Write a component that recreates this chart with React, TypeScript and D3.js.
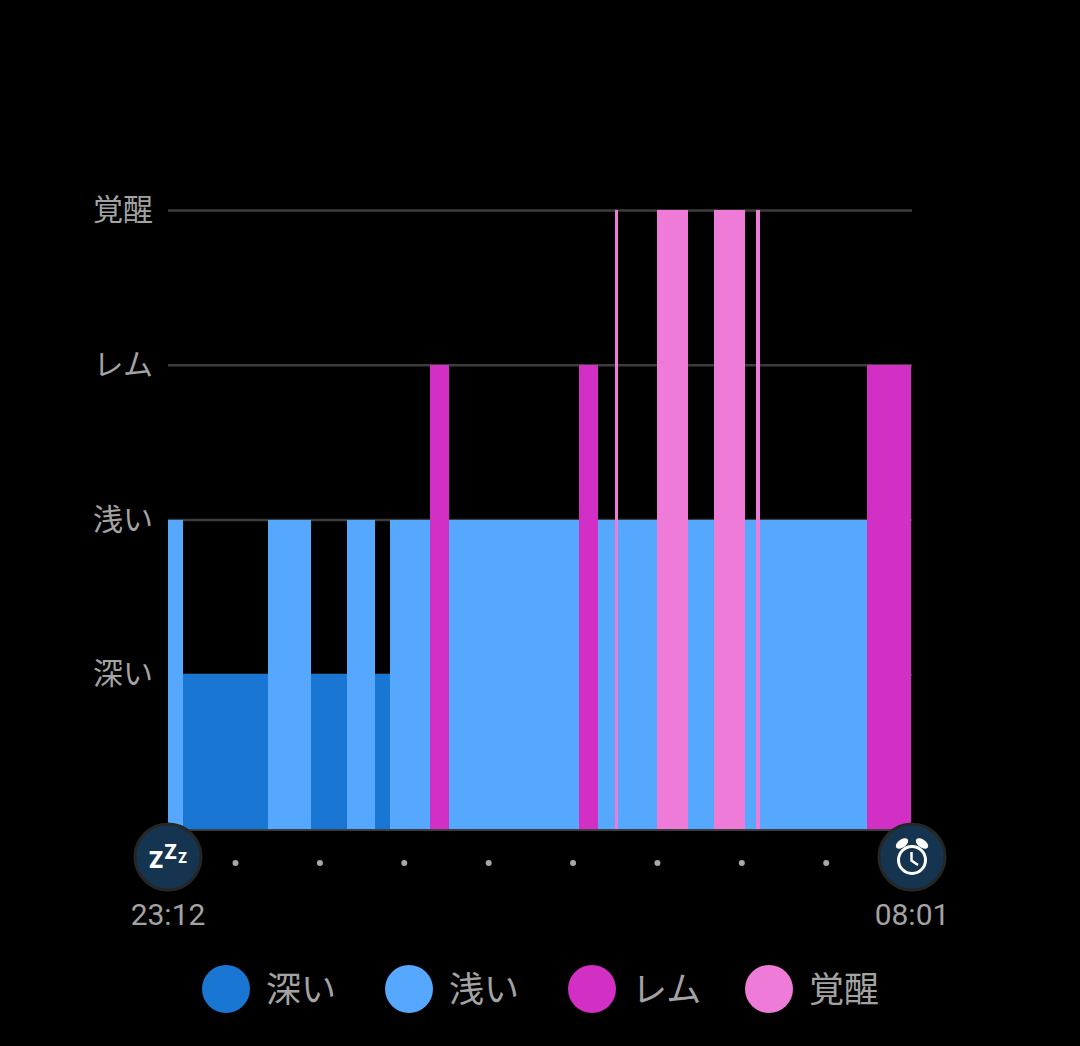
import * as d3 from "d3";
import { useEffect, useRef } from "react";

type Stage = "深い" | "浅い" | "レム" | "覚醒";

const stages: Stage[] = ["深い", "浅い", "レム", "覚醒"];
const stageColors = ["#1976d3", "#56a8ff", "#d22fc4", "#ee7bd8"];

// one entry per sleep phase, in order, minutes
const phaseStages: Stage[] = [
  "浅い", "深い", "浅い", "深い", "浅い", "深い", "浅い", "レム", "浅い", "レム",
  "浅い", "覚醒", "浅い", "覚醒", "浅い", "覚醒", "浅い", "覚醒", "浅い", "レム",
];
const phaseMinutes = [
  11, 60, 31, 25, 20, 11, 28, 14, 92, 14,
  12, 2, 28, 22, 18, 22, 8, 3, 76, 31,
];

const bedtimeLabel = "23:12";
const wakeLabel = "08:01";
const hourDots = [48, 108, 168, 228, 288, 348, 408, 468]; // minutes after 23:12

const width = 1080;
const height = 1046;
const plot = { left: 168, right: 912, top: 210, bottom: 829 };
const jpFont = "'Noto Sans CJK JP', sans-serif";
const textColor = "#a3a3a3";

const App = () => {
  const svgRef = useRef<SVGSVGElement | null>(null);

  useEffect(() => {
    const svg = d3.select(svgRef.current);
    svg.selectAll("*").remove();

    const x = d3.scaleLinear().domain([0, 529]).range([plot.left, plot.right]);
    const y = d3.scaleLinear().domain([0, 4]).range([plot.bottom, plot.top]);
    const color = d3.scaleOrdinal<string, string>().domain(stages).range(stageColors);

    // grid + stage labels
    const yAxis = svg
      .append("g")
      .attr("transform", `translate(${plot.left},0)`)
      .call(
        d3
          .axisLeft(y)
          .tickValues([1, 2, 3, 4])
          .tickSize(-(plot.right - plot.left))
          .tickPadding(15)
          .tickFormat((d) => stages[+d - 1])
      );
    yAxis.select(".domain").remove();
    yAxis.selectAll(".tick line").attr("stroke", "#3d3d3d").attr("stroke-width", 2.5);
    yAxis
      .selectAll(".tick text")
      .attr("fill", textColor)
      .attr("font-family", jpFont)
      .attr("font-size", 30);

    // phases
    const starts = d3.cumsum(phaseMinutes);
    svg
      .append("g")
      .attr("shape-rendering", "crispEdges")
      .selectAll("rect")
      .data(phaseStages)
      .join("rect")
      .attr("x", (_, i) => x(i === 0 ? 0 : starts[i - 1]))
      .attr("width", (_, i) => x(starts[i]) - x(i === 0 ? 0 : starts[i - 1]))
      .attr("y", (d) => y(stages.indexOf(d) + 1))
      .attr("height", (d) => plot.bottom + 1 - y(stages.indexOf(d) + 1))
      .attr("fill", (d) => color(d));

    // baseline
    svg
      .append("line")
      .attr("x1", plot.left)
      .attr("x2", plot.right)
      .attr("y1", plot.bottom + 1)
      .attr("y2", plot.bottom + 1)
      .attr("stroke", "#3d3d3d")
      .attr("stroke-width", 2);

    // hour dots
    svg
      .append("g")
      .selectAll("circle")
      .data(hourDots)
      .join("circle")
      .attr("cx", (d) => x(d))
      .attr("cy", 863)
      .attr("r", 3)
      .attr("fill", "#a8a8a8");

    // start / end badges
    [plot.left, plot.right].forEach((cx) => {
      svg
        .append("circle")
        .attr("cx", cx)
        .attr("cy", 857)
        .attr("r", 33)
        .attr("fill", "#14344f")
        .attr("stroke", "#262626")
        .attr("stroke-width", 3);
    });

    const zzz = [
      { dx: -12, y: 868, size: 23 },
      { dx: 2.5, y: 859, size: 20 },
      { dx: 14.5, y: 863, size: 14 },
    ];
    svg
      .append("g")
      .selectAll("text")
      .data(zzz)
      .join("text")
      .attr("x", (d) => plot.left + d.dx)
      .attr("y", (d) => d.y)
      .attr("text-anchor", "middle")
      .attr("font-family", "Roboto, sans-serif")
      .attr("font-weight", 900)
      .attr("font-size", (d) => d.size)
      .attr("fill", "#ffffff")
      .text("Z");

    // alarm clock icon
    const clock = svg.append("g").attr("transform", `translate(${plot.right},860)`);
    clock
      .append("circle")
      .attr("r", 13.5)
      .attr("fill", "none")
      .attr("stroke", "#ffffff")
      .attr("stroke-width", 3);
    clock
      .append("path")
      .attr("d", "M-0.5,-8V0.5L6,5")
      .attr("fill", "none")
      .attr("stroke", "#ffffff")
      .attr("stroke-width", 2.5);
    [-1, 1].forEach((side) => {
      clock
        .append("ellipse")
        .attr("rx", 7)
        .attr("ry", 4)
        .attr("fill", "#ffffff")
        .attr("transform", `translate(${side * 10},-16.5) rotate(${side * 35})`);
    });

    // times
    [
      { cx: plot.left, label: bedtimeLabel },
      { cx: plot.right, label: wakeLabel },
    ].forEach((t) => {
      svg
        .append("text")
        .attr("x", t.cx)
        .attr("y", 925)
        .attr("text-anchor", "middle")
        .attr("font-family", "Roboto, sans-serif")
        .attr("font-size", 30)
        .attr("fill", textColor)
        .text(t.label);
    });

    // legend
    const legendCircleX = [226, 409, 592, 769];
    const legend = svg
      .append("g")
      .selectAll("g")
      .data(stages)
      .join("g")
      .attr("transform", (_, i) => `translate(${legendCircleX[i]},989)`);
    legend.append("circle").attr("r", 24).attr("fill", (d) => color(d));
    legend
      .append("text")
      .attr("x", 40)
      .attr("y", 13)
      .attr("font-family", jpFont)
      .attr("font-size", 35)
      .attr("fill", textColor)
      .text((d) => d);
  }, []);

  return (
    <svg
      ref={svgRef}
      width={width}
      height={height}
      style={{ position: "absolute", left: 0, top: 0, background: "#000" }}
    />
  );
};

export default App;
